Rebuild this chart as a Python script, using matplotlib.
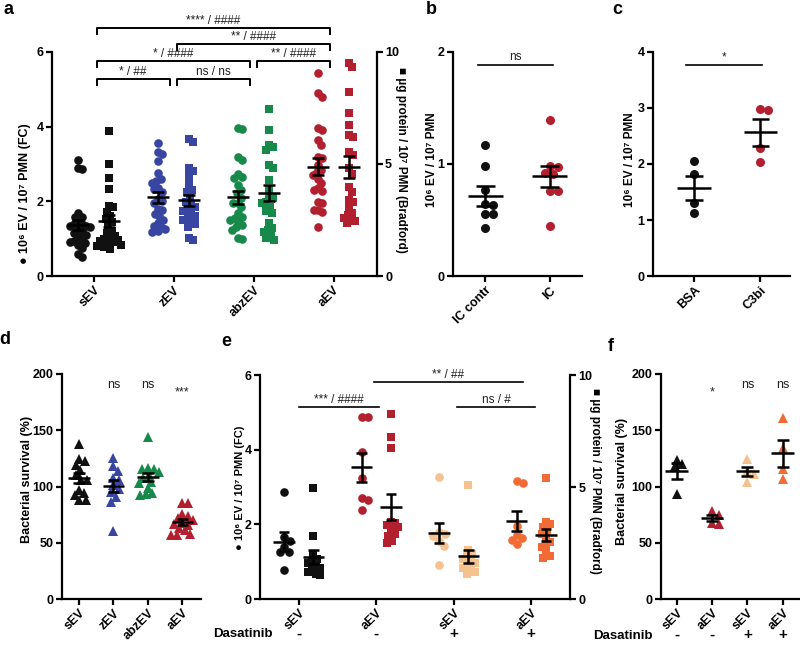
import numpy as np
import matplotlib
matplotlib.use('Agg')
import matplotlib.pyplot as plt

plt.rcParams['font.family'] = ['Liberation Sans', 'DejaVu Sans']
plt.rcParams['font.weight'] = 'bold'

#----------------------------------------------------------------------------------------------------------------------#
# Data
#----------------------------------------------------------------------------------------------------------------------#
a_groups = ['sEV', 'zEV', 'abzEV', 'aEV']
# 10^6 EV / 10^7 PMN (FC), left axis
a_fc_sev = [3.11, 2.89, 2.86, 1.70, 1.59, 1.57, 1.45, 1.40, 1.38, 1.35, 1.33, 1.30, 1.25, 1.20, 1.15, 1.10, 1.05,
            1.00, 0.95, 0.92, 0.88, 0.82, 0.75, 0.58, 0.52]
a_fc_zev = [3.57, 3.31, 3.27, 3.09, 2.75, 2.60, 2.54, 2.50, 2.37, 2.33, 2.25, 2.05, 2.00, 1.95, 1.80, 1.78, 1.65,
            1.60, 1.50, 1.42, 1.35, 1.30, 1.26, 1.20, 1.19]
a_fc_abzev = [3.97, 3.93, 3.18, 3.11, 2.73, 2.64, 2.62, 2.44, 2.30, 2.21, 2.10, 1.96, 1.95, 1.85, 1.68, 1.59, 1.55,
              1.50, 1.45, 1.37, 1.30, 1.23, 1.01, 1.00]
a_fc_aev = [5.43, 4.91, 4.80, 3.96, 3.91, 3.64, 3.51, 3.20, 3.15, 2.97, 2.84, 2.79, 2.70, 2.60, 2.48, 2.35, 2.30,
            2.28, 1.99, 1.95, 1.77, 1.77, 1.72, 1.30]
# ug protein / 10^7 PMN (Bradford), right axis
a_bf_sev = [6.47, 5.00, 4.36, 3.87, 3.13, 3.07, 2.87, 2.70, 2.55, 2.40, 2.20, 2.00, 1.90, 1.80, 1.70, 1.65, 1.60,
            1.55, 1.50, 1.45, 1.40, 1.35, 1.30, 1.20]
a_bf_zev = [6.10, 6.00, 4.84, 4.69, 4.46, 4.10, 3.84, 3.76, 3.50, 3.30, 3.20, 3.10, 3.00, 2.90, 2.80, 2.70, 2.60,
            2.50, 2.40, 2.30, 2.20, 1.71, 1.61]
a_bf_abzev = [7.44, 6.52, 5.85, 5.77, 5.63, 4.96, 4.81, 4.29, 3.90, 3.54, 3.47, 3.30, 3.24, 3.09, 2.90, 2.80, 2.35,
              2.13, 2.05, 1.98, 1.80, 1.70, 1.61]
a_bf_aev = [9.52, 9.32, 8.23, 7.26, 6.74, 6.29, 6.19, 5.55, 5.40, 4.81, 4.55, 3.99, 3.76, 3.39, 3.32, 3.02, 2.80,
            2.72, 2.60, 2.50, 2.45, 2.35]
a_colors = ['#111111', '#3846a2', '#17894a', '#b21f2f']
a_sig = [('*', '##', 1, 2, 5.28), ('ns', 'ns', 2, 3, 5.28), ('*', '####', 1, 3, 5.76),
         ('**', '####', 3, 4, 5.76), ('**', '####', 2, 4, 6.22), ('****', '####', 1, 4, 6.65)]

b_groups = ['IC contr', 'IC']
b_contr = [1.17, 0.98, 0.77, 0.64, 0.63, 0.55, 0.55, 0.43]
b_ic = [1.39, 0.98, 0.97, 0.92, 0.91, 0.76, 0.76, 0.45]

c_groups = ['BSA', 'C3bi']
c_bsa = [2.05, 1.83, 1.30, 1.13]
c_c3bi = [2.98, 2.97, 2.28, 2.04]

d_groups = ['sEV', 'zEV', 'abzEV', 'aEV']
d_sev = [137.5, 124.2, 122.7, 119.0, 114.7, 110.0, 106.0, 105.8, 97.0, 94.0, 92.4, 88.0, 88.0]
d_zev = [125.0, 118.2, 113.8, 108.0, 105.8, 101.3, 98.0, 95.4, 91.0, 86.5, 60.4]
d_abzev = [143.7, 116.2, 116.0, 115.8, 113.0, 110.0, 108.0, 104.3, 103.0, 99.0, 94.0, 93.0, 92.4]
d_aev = [85.6, 85.6, 76.0, 74.0, 72.0, 70.0, 68.0, 67.0, 66.0, 63.0, 61.0, 58.0, 57.0, 57.0]
d_sig = ['', 'ns', 'ns', '***']

e_groups = ['sEV', 'aEV', 'sEV', 'aEV']
e_dasatinib = ['-', '-', '+', '+']
e_fc_sev = [2.86, 1.65, 1.55, 1.40, 1.27, 1.25, 0.78]
e_fc_aev = [4.88, 4.88, 3.95, 3.23, 2.70, 2.65, 2.38]
e_fc_sevd = [3.28, 1.80, 1.75, 1.70, 1.55, 1.42, 0.91]
e_fc_aevd = [3.16, 3.12, 1.96, 1.71, 1.63, 1.58, 1.47]
e_bf_sev = [4.94, 2.81, 2.00, 1.80, 1.70, 1.60, 1.50, 1.40, 1.30, 1.20, 1.10, 1.05]
e_bf_aev = [8.24, 7.25, 6.73, 3.45, 3.40, 3.30, 3.20, 3.05, 2.90, 2.80, 2.60, 2.50]
e_bf_sevd = [5.09, 2.20, 2.00, 1.90, 1.80, 1.70, 1.60, 1.50, 1.40, 1.30, 1.20, 1.10]
e_bf_aevd = [5.42, 3.45, 3.33, 3.20, 3.08, 2.90, 2.72, 2.56, 2.40, 2.33, 2.07, 1.92, 1.83]
e_colors = ['#111111', '#b21f2f', '#f5c28f', '#f26b35']
e_sig = [('***', '####', 1.0, 2.03, 5.15), ('**', '##', 1.97, 3.89, 5.82), ('ns', '#', 3.04, 4.05, 5.15)]

f_sev = [124.0, 120.0, 118.0, 93.0]
f_aev = [78.0, 75.0, 68.0, 67.0]
f_sevd = [124.5, 114.0, 111.0, 104.0]
f_aevd = [161.0, 134.0, 116.0, 107.0]
f_sig = ['', '*', 'ns', 'ns']

#----------------------------------------------------------------------------------------------------------------------#
# Helpers
#----------------------------------------------------------------------------------------------------------------------#
W, H = 800, 647
fig = plt.figure(figsize=(W / 100, H / 100), dpi=100)
TICK_FS = 9


def add_ax(l, t, r, b):
    return fig.add_axes([l / W, 1 - b / H, (r - l) / W, (b - t) / H])


def style(ax):
    ax.spines['top'].set_visible(False)
    ax.spines['right'].set_visible(False)
    for s in ax.spines.values():
        s.set_linewidth(1.6)
    ax.tick_params(width=1.6, length=4, labelsize=TICK_FS, pad=2)


def style_right(ax2):
    for s in ['top', 'left', 'bottom']:
        ax2.spines[s].set_visible(False)
    ax2.spines['right'].set_linewidth(1.6)
    ax2.tick_params(width=1.6, length=4, labelsize=TICK_FS, pad=2)


def swarm_x(ax, xc, vals, diam, squeeze=1.0):
    # simple beeswarm in pixel space, optionally squeezed sideways
    vals = np.asarray(vals, float)
    pix = ax.transData.transform(np.column_stack([np.full(len(vals), xc), vals]))
    px0 = pix[0, 0]
    ys = pix[:, 1]
    offs = np.zeros(len(vals))
    done = []
    for i in np.argsort(-ys):
        found = False
        for s in np.arange(0, 60, 0.5):
            for cand in ([0.0] if s == 0 else [s, -s]):
                if all((cand - offs[j]) ** 2 + (ys[i] - ys[j]) ** 2 >= diam ** 2 for j in done):
                    offs[i] = cand
                    found = True
                    break
            if found:
                break
        done.append(i)
    return ax.transData.inverted().transform(np.column_stack([px0 + offs * squeeze, ys]))[:, 0]


def dots(ax, xc, vals, color, marker='o', ms=6, diam=7.0, squeeze=0.6):
    xs = swarm_x(ax, xc, vals, diam, squeeze)
    ax.plot(xs, vals, linestyle='none', marker=marker, ms=ms, color=color, mew=0, zorder=3, clip_on=False)


def mean_sem(ax, xc, vals, hw, cw, lw=1.8):
    m = np.mean(vals)
    e = np.std(vals, ddof=1) / np.sqrt(len(vals))
    kw = dict(color='k', lw=lw, zorder=6, solid_capstyle='butt', clip_on=False)
    ax.plot([xc - hw, xc + hw], [m, m], **kw)
    ax.plot([xc, xc], [m - e, m + e], **kw)
    ax.plot([xc - cw, xc + cw], [m + e, m + e], **kw)
    ax.plot([xc - cw, xc + cw], [m - e, m - e], **kw)


def xlabels(ax, labels):
    ax.set_xticks(np.arange(1, len(labels) + 1))
    ax.set_xticklabels(labels, rotation=45, ha='right', rotation_mode='anchor', fontsize=TICK_FS,
                       fontweight='bold')


sig_kw = dict(fontsize=8.5, fontweight='normal', color='#222222', ha='center', clip_on=False)

#----------------------------------------------------------------------------------------------------------------------#
# Panel a
#----------------------------------------------------------------------------------------------------------------------#
ax = add_ax(52, 52, 376.7, 276)
ax.set_xlim(0.48, 4.54)
ax.set_ylim(0, 6)
ax2 = ax.twinx()
ax2.set_ylim(0, 10)
style(ax)
style_right(ax2)
ax.set_yticks([0, 2, 4, 6])
ax2.set_yticks([0, 5, 10])
xlabels(ax, a_groups)
fc = [a_fc_sev, a_fc_zev, a_fc_abzev, a_fc_aev]
bf = [a_bf_sev, a_bf_zev, a_bf_abzev, a_bf_aev]
for i in range(4):
    dots(ax, i + 1 - 0.195, fc[i], a_colors[i], 'o', ms=6.2)
    mean_sem(ax, i + 1 - 0.195, fc[i], 0.14, 0.075)
    dots(ax2, i + 1 + 0.195, bf[i], a_colors[i], 's', ms=5.8)
    mean_sem(ax2, i + 1 + 0.195, bf[i], 0.14, 0.075)
for l, r, g1, g2, h in a_sig:
    x1, x2 = g1 + 0.04, g2 - 0.05
    ax.plot([x1, x1, x2, x2], [h - 0.16, h, h, h - 0.16], color='k', lw=1.4, clip_on=False)
    ax.text((x1 + x2) / 2, h + 0.03, l + ' / ' + r, va='bottom', **sig_kw)

fig.text(25 / W, 1 - 194 / H, '● 10⁶ EV / 10⁷ PMN (FC)', rotation=90, ha='center', va='center', fontsize=9)
fig.text(401 / W, 1 - 160 / H, '■ µg protein / 10⁷ PMN (Bradford)', rotation=270, ha='center', va='center',
         fontsize=8.5)

#----------------------------------------------------------------------------------------------------------------------#
# Panel b
#----------------------------------------------------------------------------------------------------------------------#
ax = add_ax(453, 52, 582, 276)
ax.set_xlim(0.5, 2.5)
ax.set_ylim(0, 2)
style(ax)
ax.set_yticks([0, 1, 2])
xlabels(ax, b_groups)
for i, (v, c) in enumerate([(b_contr, '#111111'), (b_ic, '#b21f2f')]):
    dots(ax, i + 1, v, c, 'o', ms=6.5, diam=8, squeeze=1.0)
    mean_sem(ax, i + 1, v, 0.27, 0.15)
ax.plot([0.88, 2.05], [1.88, 1.88], color='k', lw=1.2, clip_on=False)
ax.text(1.46, 1.90, 'ns', va='bottom', **sig_kw)
fig.text(432 / W, 1 - 160 / H, '10⁶ EV / 10⁷ PMN', rotation=90, ha='center', va='center', fontsize=8.5)

#----------------------------------------------------------------------------------------------------------------------#
# Panel c
#----------------------------------------------------------------------------------------------------------------------#
ax = add_ax(653, 52, 790, 276)
ax.set_xlim(0.38, 2.45)
ax.set_ylim(0, 4)
style(ax)
ax.set_yticks([0, 1, 2, 3, 4])
xlabels(ax, c_groups)
for i, (v, c) in enumerate([(c_bsa, '#111111'), (c_c3bi, '#b21f2f')]):
    dots(ax, i + 1, v, c, 'o', ms=6.5, diam=8, squeeze=1.0)
    mean_sem(ax, i + 1, v, 0.25, 0.13)
ax.plot([0.88, 2.03], [3.77, 3.77], color='k', lw=1.2, clip_on=False)
ax.text(1.46, 3.80, '*', va='bottom', **sig_kw)
fig.text(630 / W, 1 - 160 / H, '10⁶ EV / 10⁷ PMN', rotation=90, ha='center', va='center', fontsize=8.5)

#----------------------------------------------------------------------------------------------------------------------#
# Panel d
#----------------------------------------------------------------------------------------------------------------------#
ax = add_ax(61.7, 374, 200.7, 599)
ax.set_xlim(0.5, 4.53)
ax.set_ylim(0, 200)
style(ax)
ax.set_yticks([0, 50, 100, 150, 200])
xlabels(ax, d_groups)
for i, v in enumerate([d_sev, d_zev, d_abzev, d_aev]):
    dots(ax, i + 1, v, a_colors[i], '^', ms=6.5, diam=7, squeeze=0.85)
    mean_sem(ax, i + 1, v, 0.31, 0.17)
    if d_sig[i]:
        ax.text(i + 1, 190 if d_sig[i] == 'ns' else 184, d_sig[i], va='center', fontsize=9,
                fontweight='normal', color='#222222', ha='center')
fig.text(27 / W, 1 - 479 / H, 'Bacterial survival (%)', rotation=90, ha='center', va='center', fontsize=9)

#----------------------------------------------------------------------------------------------------------------------#
# Panel e
#----------------------------------------------------------------------------------------------------------------------#
ax = add_ax(260, 375, 570, 599)
ax.set_xlim(0.5, 4.5)
ax.set_ylim(0, 6)
ax2 = ax.twinx()
ax2.set_ylim(0, 10)
style(ax)
style_right(ax2)
ax.set_yticks([0, 2, 4, 6])
ax2.set_yticks([0, 5, 10])
xlabels(ax, e_groups)
fc = [e_fc_sev, e_fc_aev, e_fc_sevd, e_fc_aevd]
bf = [e_bf_sev, e_bf_aev, e_bf_sevd, e_bf_aevd]
for i in range(4):
    dots(ax, i + 1 - 0.19, fc[i], e_colors[i], 'o', ms=6.2, diam=7.5, squeeze=0.8)
    mean_sem(ax, i + 1 - 0.19, fc[i], 0.14, 0.065)
    dots(ax2, i + 1 + 0.19, bf[i], e_colors[i], 's', ms=5.8, diam=7, squeeze=0.6)
    mean_sem(ax2, i + 1 + 0.19, bf[i], 0.14, 0.065)
    ax.text(i + 1, -0.156, e_dasatinib[i], transform=ax.get_xaxis_transform(), ha='center', va='center',
            fontsize=11)
for l, r, x1, x2, h in e_sig:
    ax.plot([x1, x2], [h, h], color='k', lw=1.2, clip_on=False)
    ax.text((x1 + x2) / 2, h + 0.03, l + ' / ' + r, va='bottom', **sig_kw)
fig.text(243 / W, 1 - 634 / H, 'Dasatinib', ha='center', va='center', fontsize=9.5)
fig.text(240 / W, 1 - 488 / H, '● 10⁶ EV / 10⁷ PMN (FC)', rotation=90, ha='center', va='center', fontsize=8)
fig.text(595 / W, 1 - 481 / H, '■ µg protein / 10⁷ PMN (Bradford)', rotation=270, ha='center', va='center',
         fontsize=8.5)

#----------------------------------------------------------------------------------------------------------------------#
# Panel f
#----------------------------------------------------------------------------------------------------------------------#
ax = add_ax(660.7, 374, 800, 599)
ax.set_xlim(0.547, 4.49)
ax.set_ylim(0, 200)
style(ax)
ax.set_yticks([0, 50, 100, 150, 200])
xlabels(ax, e_groups)
for i, v in enumerate([f_sev, f_aev, f_sevd, f_aevd]):
    dots(ax, i + 1, v, e_colors[i], '^', ms=6.5, diam=7, squeeze=1.0)
    mean_sem(ax, i + 1, v, 0.32, 0.17)
    if f_sig[i]:
        ax.text(i + 1, 190 if f_sig[i] == 'ns' else 184, f_sig[i], va='center', fontsize=9,
                fontweight='normal', color='#222222', ha='center')
    ax.text(i + 1, -0.16, e_dasatinib[i], transform=ax.get_xaxis_transform(), ha='center', va='center',
            fontsize=11)
fig.text(622 / W, 1 - 481 / H, 'Bacterial survival (%)', rotation=90, ha='center', va='center', fontsize=9)
fig.text(623 / W, 1 - 636 / H, 'Dasatinib', ha='center', va='center', fontsize=9.5)

#----------------------------------------------------------------------------------------------------------------------#
# Panel letters
#----------------------------------------------------------------------------------------------------------------------#
for lab, x, y in [('a', 9, 10), ('b', 431, 10), ('c', 617, 10), ('d', 5, 339), ('e', 226, 341), ('f', 611, 347)]:
    fig.text(x / W, 1 - y / H, lab, ha='center', va='center', fontsize=13)

fig.savefig('out.png', dpi=100)
